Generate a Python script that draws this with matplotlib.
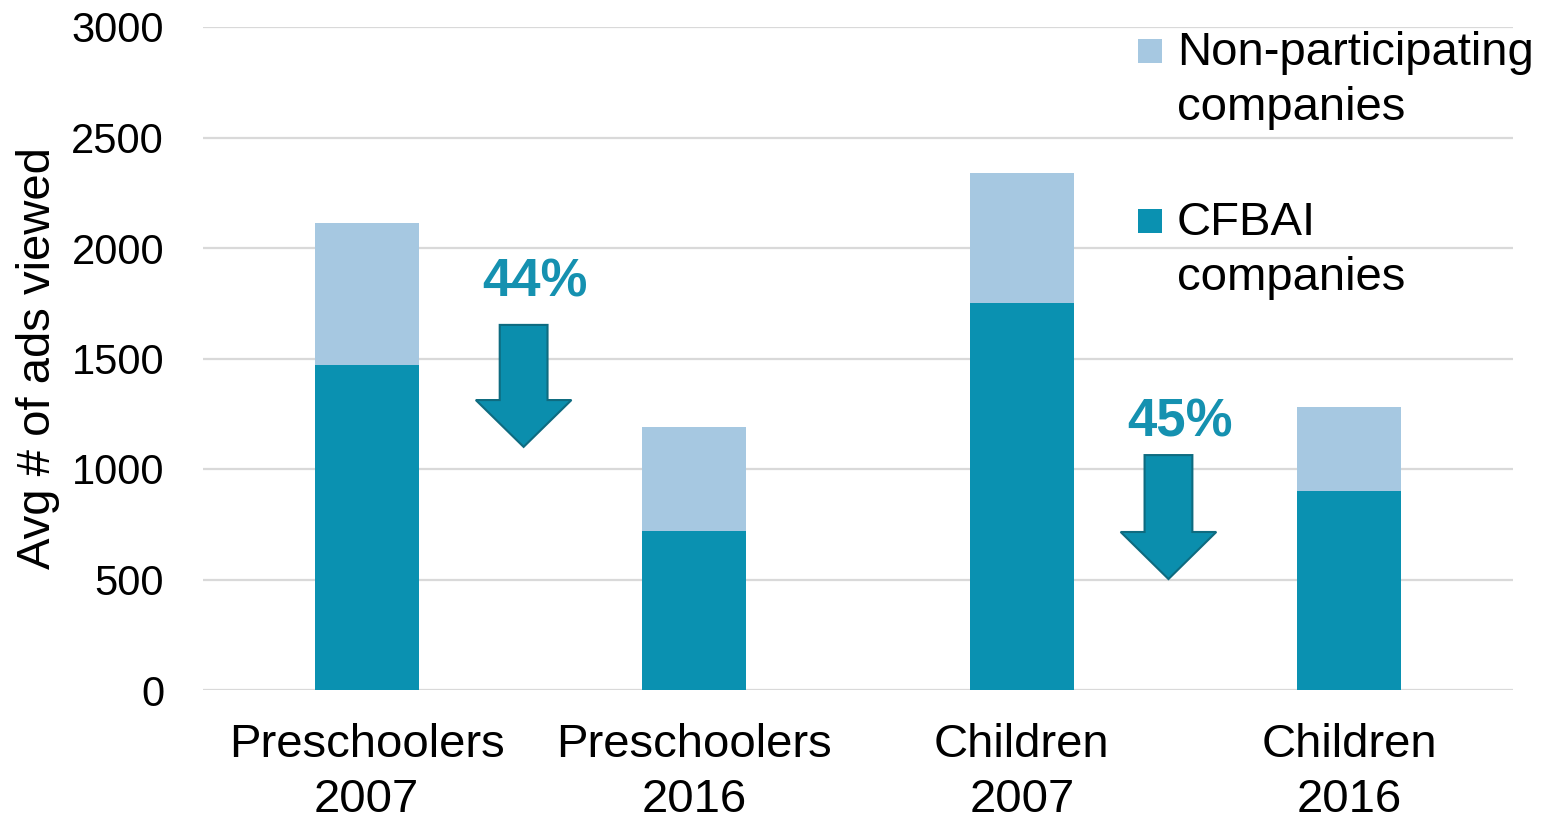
import numpy as np
import matplotlib.pyplot as plt
from matplotlib.patches import Polygon, Rectangle

plt.rcParams['font.family'] = ['Liberation Sans', 'DejaVu Sans']

# Data
groups = ['Preschoolers\n2007', 'Preschoolers\n2016', 'Children\n2007', 'Children\n2016']
cfbai = np.array([1470, 719, 1751, 900])
non_participating = np.array([643, 471, 588, 381])
legend_labels = ['Non-participating\ncompanies', 'CFBAI\ncompanies']

teal = '#0A91B1'
light = '#A6C8E1'
arrow_edge = '#0E6B80'

fig = plt.figure(figsize=(15.44, 8.23), dpi=100)
ax = fig.add_axes([203 / 1544, 1 - 690 / 823, (1513 - 203) / 1544, (690 - 27) / 823])

x = np.arange(len(groups))
w = 0.317
ax.bar(x, cfbai, w, color=teal, zorder=3)
ax.bar(x, non_participating, w, bottom=cfbai, color=light, zorder=3)

ax.set_xlim(-0.5, 3.5)
ax.set_ylim(0, 3000)
ax.set_yticks(np.arange(0, 3001, 500))
ax.set_xticks(x)
ax.set_xticklabels(groups, fontsize=34, linespacing=1.3)
ax.tick_params(axis='x', length=0, pad=24)
ax.tick_params(axis='y', length=0, pad=28, labelsize=30)
ax.yaxis.grid(True, color='#D9D9D9', linewidth=1.6, zorder=0)
for s in ax.spines.values():
    s.set_visible(False)
ax.set_ylabel('Avg # of ads viewed', fontsize=34, labelpad=8)

# Percent-drop arrows between each 2007/2016 pair
totals = cfbai + non_participating
for i, xc, top, base, tip, ly in [(0, 0.479, 1652, 1312, 1100, 1845),
                                  (2, 2.448, 1063, 715, 502, 1212)]:
    drop = round(100 * (1 - totals[i + 1] / totals[i]))
    sw, hw = 0.073, 0.146
    pts = [(xc - sw, top), (xc + sw, top), (xc + sw, base), (xc + hw, base),
           (xc, tip), (xc - hw, base), (xc - sw, base)]
    ax.add_patch(Polygon(pts, closed=True, facecolor='#0B8EAD', edgecolor=arrow_edge,
                         linewidth=1.5, zorder=4))
    ax.text(xc + 0.036, ly, f'{drop}%', ha='center', va='center', fontsize=38,
            fontweight='bold', color='#1591B0', zorder=5)

# Legend drawn by hand so each square sits on the first text line
for label, color, py in [(legend_labels[0], light, 39), (legend_labels[1], teal, 209)]:
    fig.patches.append(Rectangle((1138 / 1544, 1 - (py + 24) / 823), 24 / 1544, 24 / 823,
                                 transform=fig.transFigure, facecolor=color, edgecolor='none'))
    fig.text(1177 / 1544, 1 - (py - 8) / 823, label, fontsize=34, va='top', ha='left',
             linespacing=1.31)

fig.savefig('out.png', dpi=100)
